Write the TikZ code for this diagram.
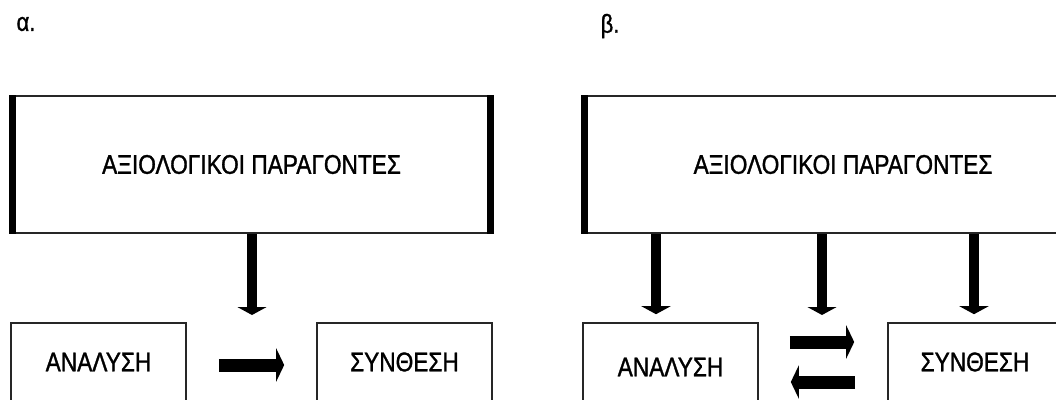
\documentclass[tikz,border=0pt]{standalone}
\usepackage{fontspec}
\setmainfont{Liberation Sans}[FakeStretch=0.84, FakeBold=1.2]
\usetikzlibrary{arrows.meta}
\tikzset{
  bigbox/.style={draw=black!85, line width=2pt, inner sep=0pt, font=\fontsize{27}{32}\selectfont},
  smallbox/.style={draw=black!85, line width=1.6pt, inner sep=0pt, font=\fontsize{27}{32}\selectfont},
  sidebar/.style={line width=7pt},
  downarrow/.style={line width=10pt, -{Triangle[width=29pt,length=8pt]}},
  sidearrow/.style={line width=13pt, -{Triangle[width=33pt,length=8pt]}},
  panellabel/.style={inner sep=0pt, font=\fontsize{26}{30}\selectfont}
}
\begin{document}
\begin{tikzpicture}[x=1pt,y=-1pt]
\useasboundingbox (0,0) rectangle (1056,399);
\clip (0,0) rectangle (1056,399);

% labels
\node[panellabel] (la) at (26,24) {α.};
\node[panellabel] (lb) at (610,26) {β.};

% ---- panel alpha ----
\node[bigbox, minimum width=481pt, minimum height=137pt] (topA) at (251.5,164.5) {ΑΞΙΟΛΟΓΙΚΟΙ ΠΑΡΑΓΟΝΤΕΣ};
\draw[sidebar] ([xshift=2.5pt]topA.north west) -- ([xshift=2.5pt]topA.south west);
\draw[sidebar] ([xshift=-2.5pt]topA.north east) -- ([xshift=-2.5pt]topA.south east);
\node[smallbox, minimum width=175pt, minimum height=78pt] (anaA) at (98.5,362) {ΑΝΑΛΥΣΗ};
\node[smallbox, minimum width=175pt, minimum height=78pt] (synA) at (404.5,362) {ΣΥΝΘΕΣΗ};
\coordinate (aEnd) at (252,315);
\draw[downarrow] (topA.south -| aEnd) -- (aEnd);
\draw[sidearrow, shorten <=32pt, shorten >=32pt] (anaA.east |- 0,365) -- (synA.west |- 0,365);

% ---- panel beta ----
\node[bigbox, minimum width=520pt, minimum height=137pt] (topB) at (843,164.5) {ΑΞΙΟΛΟΓΙΚΟΙ ΠΑΡΑΓΟΝΤΕΣ};
\draw[sidebar] ([xshift=2.5pt]topB.north west) -- ([xshift=2.5pt]topB.south west);
\node[smallbox, minimum width=175pt, minimum height=88pt] (anaB) at (670.5,367) {ΑΝΑΛΥΣΗ};
\node[smallbox, minimum width=174pt, minimum height=78pt] (synB) at (975,362) {ΣΥΝΘΕΣΗ};
\coordinate (bMid) at (822,315);
\draw[downarrow, shorten >=8pt] (topB.south -| 656,0) -- (anaB.north -| 656,0);
\draw[downarrow] (topB.south -| bMid) -- (bMid);
\draw[downarrow, shorten >=8pt] (topB.south -| 974,0) -- (synB.north -| 974,0);
\draw[sidearrow, shorten <=31pt, shorten >=33pt] (anaB.east |- 0,342) -- (synB.west |- 0,342);
\draw[sidearrow, shorten <=32pt, shorten >=32pt] (synB.west |- 0,382) -- (anaB.east |- 0,382);
\end{tikzpicture}
\end{document}
